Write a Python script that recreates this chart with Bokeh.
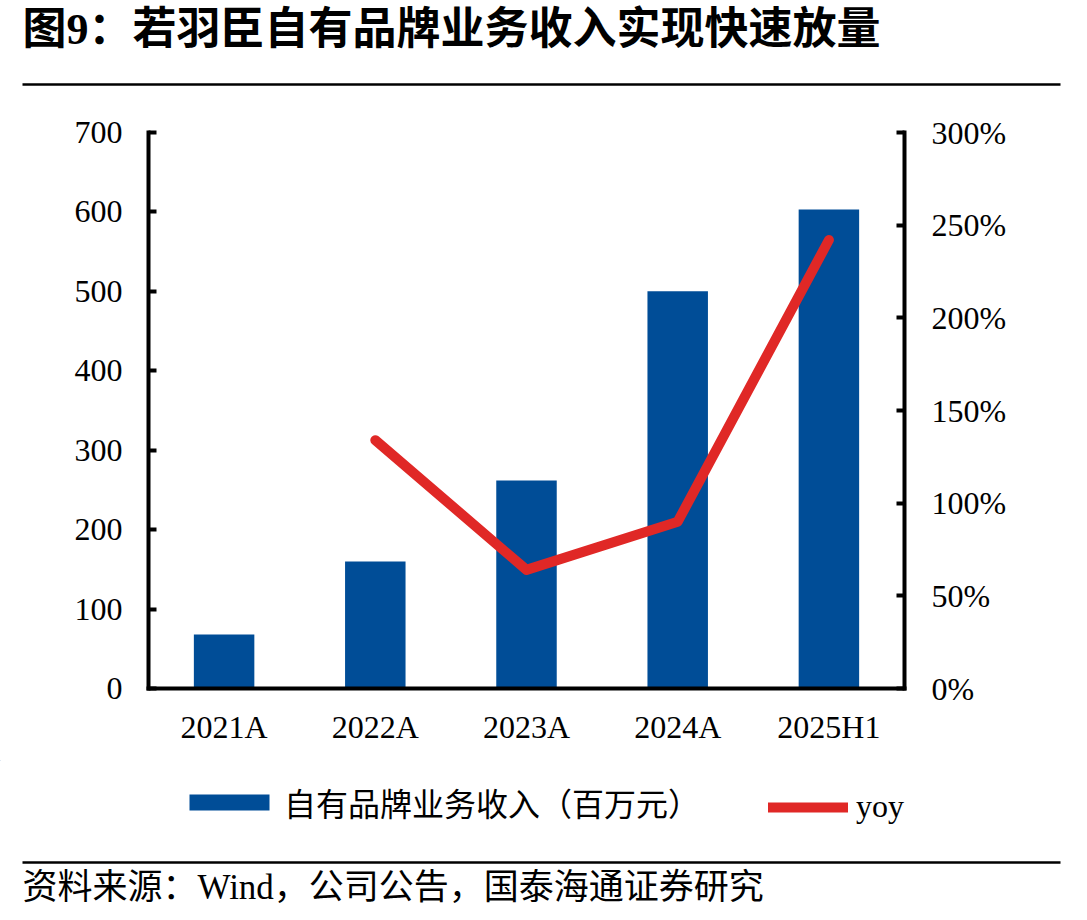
from bokeh.plotting import figure
from bokeh.models import (Range1d, LinearAxis, FixedTicker, PrintfTickFormatter,
                          Legend, LegendItem, FactorRange, ColumnDataSource, Plot)
from bokeh.layouts import column
from bokeh.core.properties import value
from bokeh.embed import file_html
from bokeh.resources import INLINE

# ---------------- data ----------------
categories = ["2021A", "2022A", "2023A", "2024A", "2025H1"]
revenue = [68, 160, 262, 500, 603]          # 自有品牌业务收入（百万元）
yoy = [float("nan"), 134, 64, 90, 242]      # yoy, %
left_ticks = [0, 100, 200, 300, 400, 500, 600, 700]
right_ticks = [0, 50, 100, 150, 200, 250, 300]
title_text = "图9：若羽臣自有品牌业务收入实现快速放量"
legend_labels = ["自有品牌业务收入（百万元）", "yoy"]
source_text = "资料来源：Wind，公司公告，国泰海通证券研究"

BLUE = "#004D97"
RED = "#E02826"
FONT = '"Liberation Serif", "Noto Sans CJK SC"'

HAS_FA = "frame_align" in Plot.properties()


def blank(height, y0, y1):
    f = figure(width=1087, height=height, x_range=Range1d(0, 1087), y_range=Range1d(y1, y0),
               output_backend="svg", toolbar_location=None, min_border=0,
               x_axis_type=None, y_axis_type=None, outline_line_color=None)
    f.grid.visible = False
    if HAS_FA:
        f.frame_align = False
    return f


# ---------------- header ----------------
header = blank(100, 0, 100)
header.text(x=[22], y=[29], text=[title_text], text_font=value(FONT), text_font_style="bold",
            text_font_size="44px", text_baseline="middle", text_color="black")
header.segment(x0=[22], y0=[84], x1=[1060], y1=[84], line_color="black", line_width=2.5)

# ---------------- main chart ----------------
src = ColumnDataSource(dict(cat=categories, rev=revenue, yoy=yoy))

p = figure(width=1087, height=660, x_range=FactorRange(*categories, range_padding=0),
           y_range=Range1d(0, 700), output_backend="svg", toolbar_location=None,
           min_border_left=148, min_border_right=183, min_border_top=32, min_border_bottom=72,
           outline_line_color=None)
p.extra_y_ranges = {"pct": Range1d(0, 300)}
p.xgrid.visible = False
p.ygrid.visible = False

bars = p.vbar(x="cat", top="rev", width=0.4, source=src, fill_color=BLUE, line_color=None)
ln = p.line(x="cat", y="yoy", source=src, y_range_name="pct", line_color=RED, line_width=10,
            line_cap="round", line_join="round")


def style_y(ax, standoff):
    ax.axis_line_width = 4
    ax.axis_line_cap = "square"
    ax.major_tick_in = 8
    ax.major_tick_out = 0
    ax.major_tick_line_width = 4
    ax.minor_tick_line_color = None
    ax.major_label_standoff = standoff
    ax.major_label_text_font = FONT
    ax.major_label_text_font_size = "32px"
    ax.major_label_text_color = "black"


ya = p.yaxis[0]
ya.ticker = FixedTicker(ticks=left_ticks)
style_y(ya, 26)

ra = LinearAxis(y_range_name="pct", ticker=FixedTicker(ticks=right_ticks),
                formatter=PrintfTickFormatter(format="%d%%"))
style_y(ra, 27)
p.add_layout(ra, "right")

xa = p.xaxis[0]
xa.axis_line_width = 4
xa.axis_line_cap = "square"
xa.major_tick_line_color = None
xa.minor_tick_line_color = None
xa.major_label_standoff = 14
xa.major_label_text_font = FONT
xa.major_label_text_font_size = "32px"
xa.major_label_text_color = "black"

# ---------------- footer (legend + source) ----------------
footer = blank(160, 760, 920)
# legend proxies, placed far outside the visible range of the footer
proxy = ColumnDataSource(dict(x=[-3000, -2000], y=[-3000, -3000], top=[-3000, -3000]))
dbar = footer.vbar(x="x", top="top", bottom="y", width=1, source=proxy,
                   fill_color=BLUE, line_color=None)
dline = footer.line(x="x", y="y", source=proxy, line_color=RED, line_width=10,
                    line_cap="round", line_join="round")

common = dict(orientation="horizontal", label_text_font_size="32px", label_text_font=FONT,
              label_text_color="black", padding=0, margin=0, spacing=0,
              border_line_color=None, background_fill_alpha=0)
leg1 = Legend(items=[LegendItem(label=legend_labels[0], renderers=[dbar], index=0)],
              location=(179, 95), glyph_width=100, glyph_height=20, label_standoff=5, **common)
leg2 = Legend(items=[LegendItem(label=legend_labels[1], renderers=[dline])],
              location=(768, 95), glyph_width=80, glyph_height=20, label_standoff=8, **common)
footer.add_layout(leg1)
footer.add_layout(leg2)

footer.segment(x0=[22], y0=[862], x1=[1060], y1=[862], line_color="black", line_width=2.5)
footer.text(x=[22], y=[887], text=[source_text], text_font=value(FONT),
            text_font_size="35px", text_baseline="middle", text_color="black")

layout = column(header, p, footer, spacing=0)
open("out.html", "w").write(file_html(layout, INLINE))
